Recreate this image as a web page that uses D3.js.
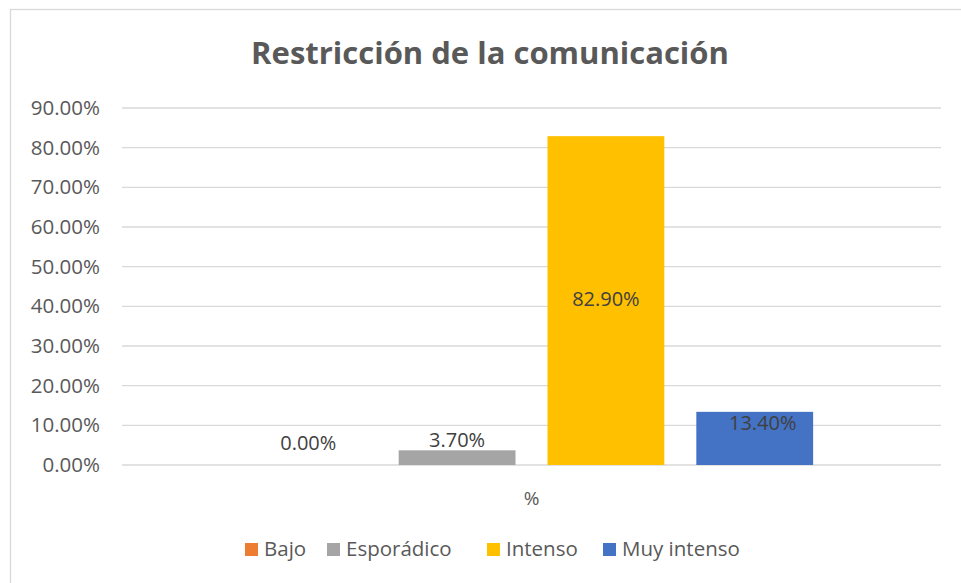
<!DOCTYPE html>
<html>
<head>
<meta charset="utf-8">
<script src="https://cdn.jsdelivr.net/npm/d3@7"></script>
<style>
  body { margin: 0; background: #fff; }
</style>
</head>
<body>
<div id="chart"></div>
<script>
// chart data
var categories = ["%"];
var series = ["Bajo", "Esporádico", "Intenso", "Muy intenso"];
var values = [0.0, 3.7, 82.9, 13.4];
var colors = ["#ED7D31", "#A5A5A5", "#FFC000", "#4472C4"];
var yTicks = [0, 10, 20, 30, 40, 50, 60, 70, 80, 90];

var width = 961, height = 583;
var margin = {top: 108, right: 20, bottom: 118, left: 122};

var svg = d3.select("#chart")
    .append("svg")
    .attr("width", width)
    .attr("height", height);

// chart area border
svg.append("rect")
    .attr("x", 10.5)
    .attr("y", 9.5)
    .attr("width", 980)
    .attr("height", 600)
    .attr("fill", "none")
    .attr("stroke", "#d9d9d9")
    .attr("stroke-width", 1.3);

// title
svg.append("text")
    .attr("x", 490)
    .attr("y", 64)
    .style("text-anchor", "middle")
    .style("font-family", "'Open Sans', sans-serif")
    .style("font-weight", "bold")
    .style("font-size", "31px")
    .style("fill", "#595959")
    .text("Restricción de la comunicación");

var y = d3.scaleLinear()
    .domain([0, 90])
    .range([height - margin.bottom, margin.top]);

var x0 = d3.scaleBand()
    .domain(categories)
    .range([margin.left, width - margin.right])
    .paddingOuter(0.227);

var x1 = d3.scaleBand()
    .domain(series)
    .range([0, x0.bandwidth()])
    .paddingInner(0.215);

// gridlines
svg.append("g")
    .selectAll("line")
    .data(yTicks)
    .enter()
    .append("line")
    .attr("x1", margin.left)
    .attr("x2", width - margin.right)
    .attr("y1", d => y(d))
    .attr("y2", d => y(d))
    .attr("stroke", "#d9d9d9")
    .attr("stroke-width", 1.3);

// y axis labels
var yAxis = d3.axisLeft(y)
    .tickValues(yTicks)
    .tickSize(0)
    .tickPadding(22)
    .tickFormat(d => d.toFixed(2) + "%");

var ya = svg.append("g")
    .attr("transform", `translate(${margin.left}, 0)`)
    .call(yAxis);
ya.select(".domain").remove();
ya.selectAll("text")
    .style("font-family", "'Open Sans', sans-serif")
    .style("font-size", "20.5px")
    .style("fill", "#595959");

// bars
var rows = series.map((s, i) => ({name: s, value: values[i], color: colors[i]}));

var g = svg.append("g")
    .attr("transform", `translate(${x0(categories[0])}, 0)`);

g.selectAll("rect")
    .data(rows)
    .enter()
    .append("rect")
    .attr("x", d => x1(d.name))
    .attr("y", d => y(d.value))
    .attr("width", x1.bandwidth())
    .attr("height", d => y(0) - y(d.value))
    .attr("fill", d => d.color);

// data labels (positions as in the original: some outside, some inside)
var labelY = function(d) {
    if (d.name == "Intenso") return (y(d.value) + y(0)) / 2 + 5;
    if (d.name == "Muy intenso") return y(d.value) + 18;
    if (d.name == "Bajo") return y(0) - 15;
    return y(d.value) - 3;
};

g.selectAll("text.lbl")
    .data(rows)
    .enter()
    .append("text")
    .attr("class", "lbl")
    .attr("x", d => x1(d.name) + x1.bandwidth() / 2 + (d.name == "Muy intenso" ? 8 : 0))
    .attr("y", labelY)
    .style("text-anchor", "middle")
    .style("font-family", "'Open Sans', sans-serif")
    .style("font-size", "20px")
    .style("fill", "#404040")
    .text(d => d.value.toFixed(2) + "%");

// category label
svg.append("text")
    .attr("x", x0(categories[0]) + x0.bandwidth() / 2)
    .attr("y", 505)
    .style("text-anchor", "middle")
    .style("font-family", "'Open Sans', sans-serif")
    .style("font-size", "19px")
    .style("fill", "#595959")
    .text(categories[0]);

// legend
var legendX = [245, 327, 487, 603];
var legend = svg.append("g");
var item = legend.selectAll("g")
    .data(rows)
    .enter()
    .append("g")
    .attr("transform", (d, i) => `translate(${legendX[i]}, 543)`);

item.append("rect")
    .attr("width", 13)
    .attr("height", 13)
    .attr("fill", d => d.color);

item.append("text")
    .attr("x", 19)
    .attr("y", 13)
    .style("font-family", "'Open Sans', sans-serif")
    .style("font-size", "20.5px")
    .style("fill", "#595959")
    .text(d => d.name);
</script>
</body>
</html>
